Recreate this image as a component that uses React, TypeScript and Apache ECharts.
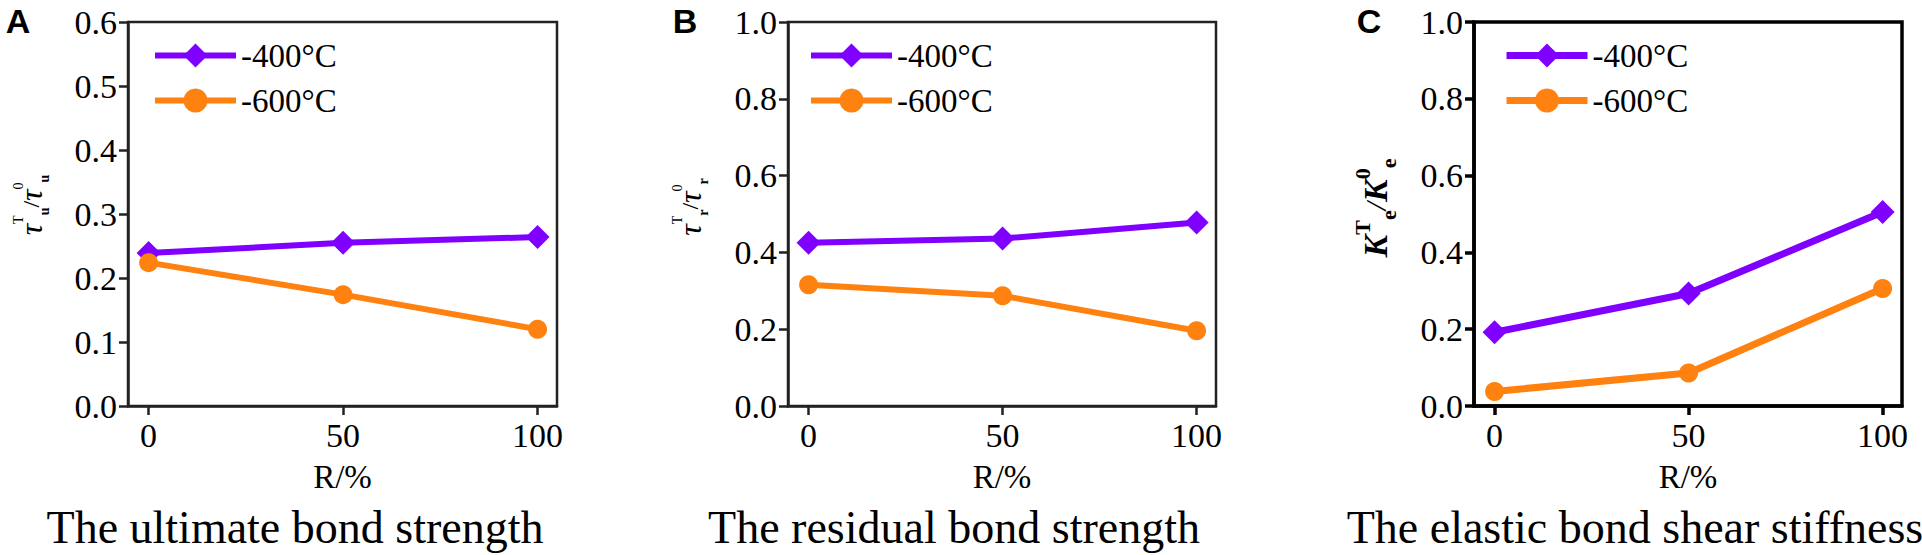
import React, { useEffect, useRef } from "react";
import * as echarts from "echarts";

// ---- data ----
const rRatios = [0, 50, 100];
const xTickValues = [0, 50, 100];
const seriesNames = ["-400°C", "-600°C"];
const ultimate400 = [0.239, 0.255, 0.264];
const ultimate600 = [0.224, 0.174, 0.12];
const residual400 = [0.425, 0.436, 0.478];
const residual600 = [0.316, 0.287, 0.196];
const stiffness400 = [0.192, 0.293, 0.505];
const stiffness600 = [0.038, 0.086, 0.306];
const panelLetters = ["A", "B", "C"];
const captions = [
  "The ultimate bond strength",
  "The residual bond strength",
  "The elastic bond shear stiffness",
];
const yAxisTitles = [
  "{t|τ}{sup|T}{sub|u}{sl|/}{t|τ}{sup|0}{sub|u}",
  "{t|τ}{sup|T}{sub|r}{sl|/}{t|τ}{sup|0}{sub|r}",
  "{k|K}{ksup|T}{ksub|e}{ksl|/}{k|K}{ksup|0}{ksub|e}",
];
const xAxisTitle = "R/%";

const SERIF = "Liberation Serif";
const SANS = "Liberation Sans";
const PURPLE = "#8000FF";
const ORANGE = "#FF8210";

const grids = [
  { left: 128, top: 22, width: 429, height: 384 },
  { left: 788, top: 22, width: 428, height: 384 },
  { left: 1474, top: 22, width: 428, height: 384 },
];
const yMax = [0.6, 1.0, 1.0];
const yInterval = [0.1, 0.2, 0.2];
const axisColor = ["#222", "#222", "#000"];
const axisWidth = [2.5, 2.5, 3.5];
const lineW = [6, 6, 7];
const legendLeft = [147, 803, 1498];
const captionX = [295, 954, 1635];
const letterX = [18, 685, 1369];
const yNameGap = [77, 78, 75];
const yNamePad = [18, 14, 12];

const richY = {
  t: { fontFamily: SERIF, fontStyle: "italic", fontWeight: "normal", fontSize: 32, color: "#000", lineHeight: 40, verticalAlign: "middle" },
  sup: { fontFamily: SERIF, fontStyle: "normal", fontWeight: "normal", fontSize: 14, color: "#000", lineHeight: 14, verticalAlign: "top" },
  sub: { fontFamily: SERIF, fontStyle: "normal", fontWeight: "bold", fontSize: 14, color: "#000", lineHeight: 14, verticalAlign: "bottom" },
  sl: { fontFamily: SERIF, fontStyle: "normal", fontWeight: "normal", fontSize: 24, color: "#000", lineHeight: 40, verticalAlign: "middle" },
  k: { fontFamily: SERIF, fontStyle: "italic", fontWeight: "bold", fontSize: 34, color: "#000", lineHeight: 48, verticalAlign: "middle" },
  ksup: { fontFamily: SERIF, fontStyle: "normal", fontWeight: "bold", fontSize: 22, color: "#000", lineHeight: 22, verticalAlign: "top" },
  ksub: { fontFamily: SERIF, fontStyle: "normal", fontWeight: "bold", fontSize: 22, color: "#000", lineHeight: 22, verticalAlign: "bottom" },
  ksl: { fontFamily: SERIF, fontStyle: "italic", fontWeight: "normal", fontSize: 30, color: "#000", lineHeight: 48, verticalAlign: "middle" },
};

function pairs(vals: number[]) {
  return rRatios.map((r, i) => [r, vals[i]]);
}

export default function App() {
  const ref = useRef<HTMLDivElement>(null);

  useEffect(() => {
    if (!ref.current) return;
    const chart = echarts.init(ref.current, undefined, { renderer: "svg" });

    const panelData = [
      [ultimate400, ultimate600],
      [residual400, residual600],
      [stiffness400, stiffness600],
    ];

    const xAxes = grids.map((_, i) => ({
      type: "value",
      gridIndex: i,
      min: -5.3,
      max: 105,
      name: xAxisTitle,
      nameLocation: "middle",
      nameGap: 54,
      nameTextStyle: { fontFamily: SERIF, fontStyle: "normal", fontWeight: "normal", fontSize: 33, color: "#000" },
      splitLine: { show: false },
      axisLine: {
        show: true,
        onZero: false,
        lineStyle: { color: axisColor[i], width: axisWidth[i] },
      },
      axisTick: {
        show: true,
        length: 9,
        customValues: xTickValues,
        lineStyle: { color: axisColor[i], width: axisWidth[i] },
      },
      axisLabel: {
        customValues: xTickValues,
        margin: 12,
        fontFamily: SERIF,
        fontStyle: "normal",
        fontWeight: "normal",
        fontSize: 34,
        color: "#000",
      },
    }));

    const yAxes = grids.map((_, i) => ({
      type: "value",
      gridIndex: i,
      min: 0,
      max: yMax[i],
      interval: yInterval[i],
      name: yAxisTitles[i],
      nameLocation: "middle",
      nameRotate: 90,
      nameGap: yNameGap[i],
      nameTextStyle: {
        fontFamily: SERIF,
        fontStyle: "normal",
        fontWeight: "normal",
        fontSize: 30,
        color: "#000",
        padding: [0, 0, 0, yNamePad[i]],
        rich: richY,
      },
      splitLine: { show: false },
      axisLine: {
        show: true,
        onZero: false,
        lineStyle: { color: axisColor[i], width: axisWidth[i] },
      },
      axisTick: {
        show: true,
        length: 9,
        lineStyle: { color: axisColor[i], width: axisWidth[i] },
      },
      axisLabel: {
        margin: 11,
        fontFamily: SERIF,
        fontStyle: "normal",
        fontWeight: "normal",
        fontSize: 34,
        color: "#000",
        formatter: (v: number) => v.toFixed(1),
      },
    }));

    const series: any[] = [];
    panelData.forEach((pd, i) => {
      series.push({
        type: "line",
        name: seriesNames[0],
        xAxisIndex: i,
        yAxisIndex: i,
        data: pairs(pd[0]),
        symbol: "diamond",
        symbolSize: 24,
        color: PURPLE,
        lineStyle: { width: lineW[i], color: PURPLE },
        itemStyle: { color: PURPLE },
      });
      series.push({
        type: "line",
        name: seriesNames[1],
        xAxisIndex: i,
        yAxisIndex: i,
        data: pairs(pd[1]),
        symbol: "circle",
        symbolSize: 19,
        color: ORANGE,
        lineStyle: { width: lineW[i], color: ORANGE },
        itemStyle: { color: ORANGE },
      });
    });

    const legends = grids.map((_, i) => ({
      left: legendLeft[i],
      top: 34,
      orient: "vertical",
      itemWidth: 81,
      itemHeight: 30,
      itemGap: 12,
      selectedMode: false,
      data: seriesNames,
      lineStyle: { width: lineW[i] },
      textStyle: {
        fontFamily: SERIF,
        fontStyle: "normal",
        fontWeight: "normal",
        fontSize: 33,
        color: "#000",
        lineHeight: 30,
      },
    }));

    const titles: any[] = [];
    panelLetters.forEach((t, i) => {
      titles.push({
        text: t,
        left: letterX[i],
        top: 4,
        padding: 0,
        textAlign: "center",
        textStyle: {
          fontFamily: SANS,
          fontStyle: "normal",
          fontWeight: "bold",
          fontSize: 34,
          color: "#000",
        },
      });
    });
    captions.forEach((t, i) => {
      titles.push({
        text: t,
        left: captionX[i],
        top: 504,
        padding: 0,
        textAlign: "center",
        textStyle: {
          fontFamily: SERIF,
          fontStyle: "normal",
          fontWeight: "normal",
          fontSize: 46,
          color: "#000",
        },
      });
    });

    chart.setOption({
      animation: false,
      backgroundColor: "#fff",
      title: titles,
      grid: grids.map((g, i) => ({
        ...g,
        show: true,
        borderColor: axisColor[i],
        borderWidth: axisWidth[i],
        backgroundColor: "transparent",
        containLabel: false,
      })),
      xAxis: xAxes,
      yAxis: yAxes,
      legend: legends,
      series,
    });

    return () => chart.dispose();
  }, []);

  return (
    <div
      ref={ref}
      style={{
        position: "absolute",
        left: 0,
        top: 0,
        width: 1922,
        height: 555,
        background: "#fff",
      }}
    />
  );
}
